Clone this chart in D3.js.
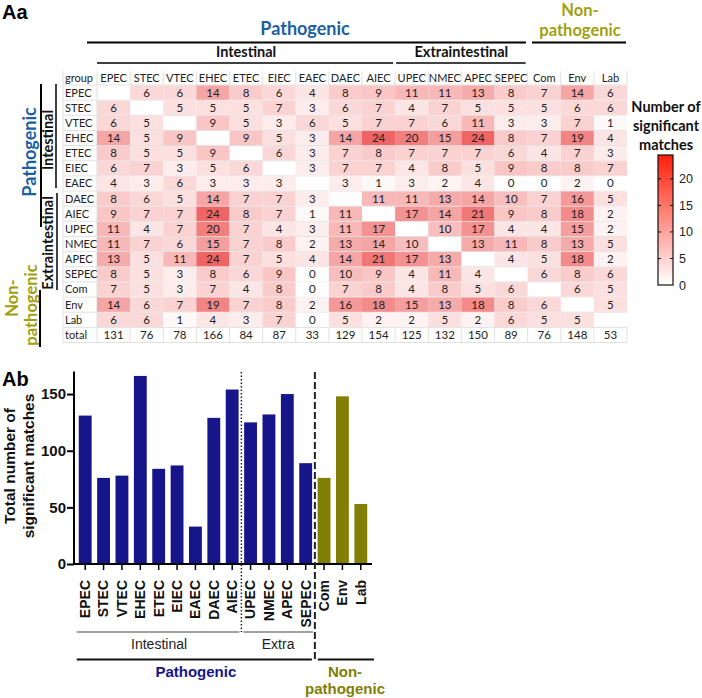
<!DOCTYPE html>
<html>
<head>
<meta charset="utf-8">
<script src="https://cdn.jsdelivr.net/npm/d3@7"></script>
<style>
  body { margin: 0; background: #fff; }
  svg { display: block; }
</style>
</head>
<body>
<div id="chart"></div>
<script>
// ---- data ----
const groups = ["EPEC", "STEC", "VTEC", "EHEC", "ETEC", "EIEC", "EAEC", "DAEC", "AIEC",
                "UPEC", "NMEC", "APEC", "SEPEC", "Com", "Env", "Lab"];
const pathogenicIntestinal = ["EPEC", "STEC", "VTEC", "EHEC", "ETEC", "EIEC", "EAEC", "DAEC", "AIEC"];
const pathogenicExtra = ["UPEC", "NMEC", "APEC", "SEPEC"];
const nonPathogenic = ["Com", "Env", "Lab"];

// significant matches, row = group, column = group (null on the diagonal)
const matches = [
  [null, 6, 6, 14, 8, 6, 4, 8, 9, 11, 11, 13, 8, 7, 14, 6],
  [6, null, 5, 5, 5, 7, 3, 6, 7, 4, 7, 5, 5, 5, 6, 6],
  [6, 5, null, 9, 5, 3, 6, 5, 7, 7, 6, 11, 3, 3, 7, 1],
  [14, 5, 9, null, 9, 5, 3, 14, 24, 20, 15, 24, 8, 7, 19, 4],
  [8, 5, 5, 9, null, 6, 3, 7, 8, 7, 7, 7, 6, 4, 7, 3],
  [6, 7, 3, 5, 6, null, 3, 7, 7, 4, 8, 5, 9, 8, 8, 7],
  [4, 3, 6, 3, 3, 3, null, 3, 1, 3, 2, 4, 0, 0, 2, 0],
  [8, 6, 5, 14, 7, 7, 3, null, 11, 11, 13, 14, 10, 7, 16, 5],
  [9, 7, 7, 24, 8, 7, 1, 11, null, 17, 14, 21, 9, 8, 18, 2],
  [11, 4, 7, 20, 7, 4, 3, 11, 17, null, 10, 17, 4, 4, 15, 2],
  [11, 7, 6, 15, 7, 8, 2, 13, 14, 10, null, 13, 11, 8, 13, 5],
  [13, 5, 11, 24, 7, 5, 4, 14, 21, 17, 13, null, 4, 5, 18, 2],
  [8, 5, 3, 8, 6, 9, 0, 10, 9, 4, 11, 4, null, 6, 8, 6],
  [7, 5, 3, 7, 4, 8, 0, 7, 8, 4, 8, 5, 6, null, 6, 5],
  [14, 6, 7, 19, 7, 8, 2, 16, 18, 15, 13, 18, 8, 6, null, 5],
  [6, 6, 1, 4, 3, 7, 0, 5, 2, 2, 5, 2, 6, 5, 5, null]
];
const totals = [131, 76, 78, 166, 84, 87, 33, 129, 154, 125, 132, 150, 89, 76, 148, 53];
const legendTicks = [0, 5, 10, 15, 20];
const barTicks = [0, 50, 100, 150];

const BLUE = "#1c5fa3";
const OLIVE = "#a09f10";
const NAVY = "#16168a";
const OLIVE_BAR = "#817f06";
const calib = "Lato, 'Noto Sans', sans-serif";
const arial = "'Liberation Sans', Arial, sans-serif";

const svg = d3.select("#chart").append("svg")
    .attr("width", 702)
    .attr("height", 698);

// ================= Aa : heat map =================
const x = d3.scaleBand().domain(groups).range([97, 627]);
const rowNames = groups.concat(["total"]);
const y = d3.scaleBand().domain(rowNames).range([85, 342.5]);
const headerY = 78;

const color = d3.scaleLinear().domain([0, 24]).range(["#ffffff", "#ef6464"]);

const flat = [];
matches.forEach((row, i) => {
    row.forEach((v, j) => flat.push({ row: groups[i], col: groups[j], value: v }));
});

const heat = svg.append("g");

// light grid lines (rows)
heat.selectAll(".hline")
    .data(rowNames.concat(["__end"]))
    .enter().append("line")
    .attr("x1", 63).attr("x2", 627)
    .attr("y1", d => d === "__end" ? y.range()[1] : y(d))
    .attr("y2", d => d === "__end" ? y.range()[1] : y(d))
    .attr("stroke", "#d9d9d9").attr("stroke-width", 0.8);

// vertical separators in header, label column and total row
const vsep = [63, 97].concat(groups.map(g => x(g) + x.bandwidth()));
heat.selectAll(".vsep-h")
    .data(vsep)
    .enter().append("line")
    .attr("x1", d => d).attr("x2", d => d)
    .attr("y1", 71).attr("y2", 85)
    .attr("stroke", "#d9d9d9").attr("stroke-width", 0.8);
heat.selectAll(".vsep-t")
    .data(vsep)
    .enter().append("line")
    .attr("x1", d => d).attr("x2", d => d)
    .attr("y1", y("total")).attr("y2", y("total") + y.bandwidth())
    .attr("stroke", "#d9d9d9").attr("stroke-width", 0.8);
heat.selectAll(".vsep-l")
    .data([63, 97])
    .enter().append("line")
    .attr("x1", d => d).attr("x2", d => d)
    .attr("y1", 85).attr("y2", y("total"))
    .attr("stroke", "#d9d9d9").attr("stroke-width", 0.8);

// cells
heat.selectAll(".cell")
    .data(flat.filter(d => d.value !== null))
    .enter().append("rect")
    .attr("class", "cell")
    .attr("x", d => x(d.col))
    .attr("y", d => y(d.row) + 0.4)
    .attr("width", x.bandwidth())
    .attr("height", y.bandwidth() - 0.8)
    .attr("fill", d => color(d.value));

heat.selectAll(".cell-text")
    .data(flat.filter(d => d.value !== null))
    .enter().append("text")
    .attr("x", d => x(d.col) + x.bandwidth() / 2)
    .attr("y", d => y(d.row) + y.bandwidth() / 2 + 4)
    .attr("text-anchor", "middle")
    .style("font-family", calib)
    .style("font-size", "11.5px")
    .attr("fill", "#222")
    .text(d => d.value);

// totals row
heat.selectAll(".total-text")
    .data(totals)
    .enter().append("text")
    .attr("x", (d, i) => x(groups[i]) + x.bandwidth() / 2)
    .attr("y", y("total") + y.bandwidth() / 2 + 4)
    .attr("text-anchor", "middle")
    .style("font-family", calib)
    .style("font-size", "11.5px")
    .attr("fill", "#222")
    .text(d => d);

// column headers
heat.selectAll(".col-label")
    .data(groups)
    .enter().append("text")
    .attr("x", d => x(d) + x.bandwidth() / 2)
    .attr("y", headerY + 4)
    .attr("text-anchor", "middle")
    .style("font-family", calib)
    .style("font-size", "11px")
    .attr("fill", "#222")
    .text(d => d);

heat.append("text")
    .attr("x", 65).attr("y", headerY + 4)
    .style("font-family", calib).style("font-size", "11px")
    .attr("fill", "#222").text("group");

// row labels
heat.selectAll(".row-label")
    .data(rowNames)
    .enter().append("text")
    .attr("x", 65)
    .attr("y", d => y(d) + y.bandwidth() / 2 + 4)
    .style("font-family", calib)
    .style("font-size", "11px")
    .attr("fill", "#222")
    .text(d => d);

// top group headers
const topHdr = svg.append("g").style("font-family", calib).style("font-weight", "bold");
topHdr.append("text").attr("x", 305).attr("y", 35).attr("text-anchor", "middle")
    .style("font-size", "18px").attr("fill", BLUE).text("Pathogenic");
topHdr.append("line").attr("x1", 87).attr("x2", 526).attr("y1", 42.5).attr("y2", 42.5)
    .attr("stroke", "#000").attr("stroke-width", 2);
topHdr.append("text").attr("x", 580).attr("y", 16).attr("text-anchor", "middle")
    .style("font-size", "16.5px").attr("fill", OLIVE).text("Non-");
topHdr.append("text").attr("x", 580).attr("y", 36).attr("text-anchor", "middle")
    .style("font-size", "16.5px").attr("fill", OLIVE).text("pathogenic");
topHdr.append("line").attr("x1", 532).attr("x2", 626).attr("y1", 42.5).attr("y2", 42.5)
    .attr("stroke", "#000").attr("stroke-width", 2);

const intStart = x(pathogenicIntestinal[0]);
const intEnd = x(pathogenicIntestinal[pathogenicIntestinal.length - 1]) + x.bandwidth();
const extStart = x(pathogenicExtra[0]);
const extEnd = x(pathogenicExtra[pathogenicExtra.length - 1]) + x.bandwidth();
topHdr.append("text").attr("x", (intStart + intEnd) / 2).attr("y", 57).attr("text-anchor", "middle")
    .style("font-size", "14.5px").attr("fill", "#111").text("Intestinal");
topHdr.append("line").attr("x1", intStart).attr("x2", intEnd - 2).attr("y1", 63).attr("y2", 63)
    .attr("stroke", "#000").attr("stroke-width", 1.5);
topHdr.append("text").attr("x", (extStart + extEnd) / 2).attr("y", 57).attr("text-anchor", "middle")
    .style("font-size", "14.5px").attr("fill", "#111").text("Extraintestinal");
topHdr.append("line").attr("x1", extStart + 1).attr("x2", extEnd - 2).attr("y1", 63).attr("y2", 63)
    .attr("stroke", "#000").attr("stroke-width", 1.5);

// left group headers (rotated)
const leftHdr = svg.append("g").style("font-family", calib).style("font-weight", "bold");
function vText(g, cx, cy, txt, size, fill) {
    g.append("text")
        .attr("transform", `translate(${cx},${cy}) rotate(-90)`)
        .attr("text-anchor", "middle")
        .style("font-size", size)
        .attr("fill", fill)
        .text(txt);
}
const intRowsEnd = y("EAEC") + y.bandwidth();
vText(leftHdr, 36, 152, "Pathogenic", "18px", BLUE);
leftHdr.append("line").attr("x1", 41).attr("x2", 41).attr("y1", 84).attr("y2", 227)
    .attr("stroke", "#000").attr("stroke-width", 2);
vText(leftHdr, 53, (y("EPEC") + intRowsEnd) / 2 + 2, "Intestinal", "14.5px", "#111");
leftHdr.append("line").attr("x1", 56).attr("x2", 56).attr("y1", 84).attr("y2", intRowsEnd - 3)
    .attr("stroke", "#000").attr("stroke-width", 1.5);
vText(leftHdr, 53, 243, "Extraintestinal", "14.5px", "#111");
leftHdr.append("line").attr("x1", 57).attr("x2", 57).attr("y1", 193).attr("y2", 290)
    .attr("stroke", "#000").attr("stroke-width", 1.5);
vText(leftHdr, 18, 298, "Non-", "16.5px", OLIVE);
vText(leftHdr, 37, 305, "pathogenic", "16.5px", OLIVE);
leftHdr.append("line").attr("x1", 40).attr("x2", 40).attr("y1", 290).attr("y2", 347)
    .attr("stroke", "#000").attr("stroke-width", 2);

svg.append("text").attr("x", 2).attr("y", 19)
    .style("font-family", arial).style("font-weight", "bold").style("font-size", "20px")
    .text("Aa");

// color legend
const legY = d3.scaleLinear().domain([0, 24.5]).range([285, 155]);
const defs = svg.append("defs");
const grad = defs.append("linearGradient").attr("id", "legGrad")
    .attr("x1", "0%").attr("x2", "0%").attr("y1", "100%").attr("y2", "0%");
grad.append("stop").attr("offset", "0%").attr("stop-color", "#ffffff");
grad.append("stop").attr("offset", "100%").attr("stop-color", "#ff1e0a");

const leg = svg.append("g");
leg.append("rect")
    .attr("x", 658).attr("y", legY(24.5))
    .attr("width", 15).attr("height", legY(0) - legY(24.5))
    .attr("fill", "url(#legGrad)")
    .attr("stroke", "#111").attr("stroke-width", 1.2);
leg.selectAll(".lt")
    .data(legendTicks.filter(t => t > 0))
    .enter().append("g")
    .each(function (t) {
        const g = d3.select(this);
        g.append("line").attr("x1", 658).attr("x2", 661).attr("y1", legY(t)).attr("y2", legY(t))
            .attr("stroke", "#111");
        g.append("line").attr("x1", 670).attr("x2", 673).attr("y1", legY(t)).attr("y2", legY(t))
            .attr("stroke", "#111");
    });
leg.selectAll(".ll")
    .data(legendTicks)
    .enter().append("text")
    .attr("x", 679).attr("y", d => legY(d) + 4.5)
    .style("font-family", arial).style("font-size", "12.5px")
    .attr("fill", "#222")
    .text(d => d);
["Number of", "significant", "matches"].forEach((t, i) => {
    leg.append("text").attr("x", 666).attr("y", 112 + i * 19).attr("text-anchor", "middle")
        .style("font-family", calib).style("font-weight", "bold")
        .style("font-size", "14.5px").attr("fill", "#111").text(t);
});

// ================= Ab : bar chart =================
const bx = d3.scaleBand().domain(groups).range([76, 370]).paddingInner(0.3).paddingOuter(0.15);
const by = d3.scaleLinear().domain([0, 170]).range([564, 371.4]);

svg.append("text").attr("x", 2).attr("y", 386)
    .style("font-family", arial).style("font-weight", "bold").style("font-size", "20px")
    .text("Ab");

const bars = svg.append("g");
bars.selectAll(".bar")
    .data(groups.map((g, i) => ({ name: g, value: totals[i] })))
    .enter().append("rect")
    .attr("x", d => bx(d.name))
    .attr("y", d => by(d.value))
    .attr("width", bx.bandwidth())
    .attr("height", d => by(0) - by(d.value))
    .attr("fill", d => nonPathogenic.includes(d.name) ? OLIVE_BAR : NAVY);

// y axis
const yAxis = svg.append("g")
    .attr("transform", "translate(74,0)")
    .call(d3.axisLeft(by).tickValues(barTicks).tickSize(7).tickSizeOuter(0));
yAxis.select(".domain").attr("stroke-width", 2).attr("d", `M0,${by(170)}V${by(0)}`);
yAxis.selectAll(".tick line").attr("stroke-width", 2);
yAxis.selectAll(".tick text")
    .style("font-family", arial).style("font-weight", "bold").style("font-size", "15px")
    .attr("x", -8).attr("fill", "#111");

// x axis
const xAxis = svg.append("g")
    .attr("transform", `translate(0,${by(0)})`)
    .call(d3.axisBottom(bx).tickSize(6).tickSizeOuter(0));
xAxis.select(".domain").attr("stroke-width", 2).attr("d", "M73,0H372");
xAxis.selectAll(".tick line").attr("stroke-width", 1.5);
xAxis.selectAll(".tick text")
    .style("font-family", arial).style("font-weight", "bold").style("font-size", "14px")
    .attr("fill", "#111")
    .attr("text-anchor", "end")
    .attr("transform", "rotate(-90)")
    .attr("x", -16).attr("y", 0).attr("dy", "0.35em");

// separators between groups
const sepIntExtra = (bx(pathogenicIntestinal[pathogenicIntestinal.length - 1]) + bx.bandwidth() + bx(pathogenicExtra[0])) / 2;
const sepPathNon = (bx(pathogenicExtra[pathogenicExtra.length - 1]) + bx.bandwidth() + bx(nonPathogenic[0])) / 2;
svg.append("line").attr("x1", sepIntExtra).attr("x2", sepIntExtra).attr("y1", 372).attr("y2", 632)
    .attr("stroke", "#222").attr("stroke-width", 1.5).attr("stroke-dasharray", "1.5,2");
svg.append("line").attr("x1", sepPathNon).attr("x2", sepPathNon).attr("y1", 372).attr("y2", 661)
    .attr("stroke", "#222").attr("stroke-width", 2).attr("stroke-dasharray", "7,3");

// group brackets below
const b0 = bx(groups[0]) - 2;
const bg = svg.append("g");
bg.append("line").attr("x1", b0).attr("x2", sepIntExtra - 2).attr("y1", 632).attr("y2", 632)
    .attr("stroke", "#444").attr("stroke-width", 1);
bg.append("line").attr("x1", sepIntExtra + 2).attr("x2", sepPathNon - 2).attr("y1", 632).attr("y2", 632)
    .attr("stroke", "#444").attr("stroke-width", 1);
bg.append("text").attr("x", (b0 + sepIntExtra) / 2).attr("y", 649).attr("text-anchor", "middle")
    .style("font-family", arial).style("font-size", "14px").attr("fill", "#222").text("Intestinal");
bg.append("text").attr("x", (sepIntExtra + sepPathNon) / 2).attr("y", 649).attr("text-anchor", "middle")
    .style("font-family", arial).style("font-size", "14px").attr("fill", "#222").text("Extra");
bg.append("line").attr("x1", b0).attr("x2", sepPathNon - 3).attr("y1", 659.5).attr("y2", 659.5)
    .attr("stroke", "#111").attr("stroke-width", 2);
bg.append("line").attr("x1", sepPathNon + 3).attr("x2", 374).attr("y1", 659.5).attr("y2", 659.5)
    .attr("stroke", "#111").attr("stroke-width", 2);
bg.append("text").attr("x", (b0 + sepPathNon) / 2).attr("y", 677).attr("text-anchor", "middle")
    .style("font-family", arial).style("font-weight", "bold").style("font-size", "15px")
    .attr("fill", NAVY).text("Pathogenic");
bg.append("text").attr("x", 345).attr("y", 677).attr("text-anchor", "middle")
    .style("font-family", arial).style("font-weight", "bold").style("font-size", "15px")
    .attr("fill", OLIVE_BAR).text("Non-");
bg.append("text").attr("x", 345).attr("y", 694).attr("text-anchor", "middle")
    .style("font-family", arial).style("font-weight", "bold").style("font-size", "15px")
    .attr("fill", OLIVE_BAR).text("pathogenic");

// y title
["Total number of", "significant matches"].forEach((t, i) => {
    svg.append("text")
        .attr("transform", `translate(${15 + i * 19},${466}) rotate(-90)`)
        .attr("text-anchor", "middle")
        .style("font-family", arial).style("font-weight", "bold").style("font-size", "15.5px")
        .attr("fill", "#111")
        .text(t);
});
</script>
</body>
</html>
